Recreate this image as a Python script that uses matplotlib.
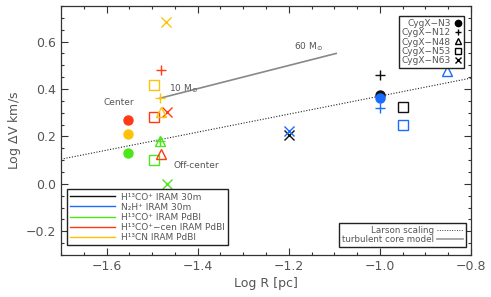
import matplotlib
matplotlib.use("Agg")
import matplotlib.pyplot as plt
import numpy as np
from matplotlib.lines import Line2D
from matplotlib.ticker import MultipleLocator

# --- data ---
sources = ["CygX-N3", "CygX-N12", "CygX-N48", "CygX-N53", "CygX-N63"]
source_markers = ["o", "+", "^", "s", "x"]

tracer_labels = ["H\u00b9\u00b3CO\u207a IRAM 30m", "N\u2082H\u207a IRAM 30m",
                 "H\u00b9\u00b3CO\u207a IRAM PdBI", "H\u00b9\u00b3CO\u207a\u2212cen IRAM PdBI",
                 "H\u00b9\u00b3CN IRAM PdBI"]
tracer_colors = ["#111111", "#1a6cff", "#4de61a", "#ff3a14", "#ffc20a"]

# per tracer: log R and log dV for N3, N12, N48, N53, N63 (None = not measured)
h13co_30m_R = [-1.0, -1.0, None, -0.95, -1.2]
h13co_30m_V = [0.375, 0.46, None, 0.325, 0.208]
n2h_30m_R = [-1.0, -1.0, -0.852, -0.95, -1.2]
n2h_30m_V = [0.36, 0.32, 0.475, 0.25, 0.225]
h13co_pdbi_R = [-1.553, -1.483, -1.483, -1.495, -1.468]
h13co_pdbi_V = [0.13, 0.18, 0.18, 0.102, 0.0]
h13co_cen_R = [-1.553, -1.48, -1.48, -1.495, -1.468]
h13co_cen_V = [0.27, 0.48, 0.128, 0.28, 0.302]
h13cn_pdbi_R = [-1.553, -1.483, -1.48, -1.495, -1.47]
h13cn_pdbi_V = [0.21, 0.361, 0.304, 0.415, 0.683]

tracer_R = [h13co_30m_R, n2h_30m_R, h13co_pdbi_R, h13co_cen_R, h13cn_pdbi_R]
tracer_V = [h13co_30m_V, n2h_30m_V, h13co_pdbi_V, h13co_cen_V, h13cn_pdbi_V]

# Larson scaling: log dV = a + b log R
larson_a, larson_b = 0.75, 0.38
# turbulent core model, 10 to 60 Msun
model_R = [-1.483, -1.096]
model_V = [0.361, 0.55]

TXT = "#555555"
plt.rcParams["font.family"] = "DejaVu Sans"

fig = plt.figure(figsize=(4.91, 2.97), dpi=100)
ax = fig.add_axes([0.1242, 0.1414, 0.8351, 0.8384])

xx = np.array([-1.70, -0.80])
ax.plot(xx, larson_a + larson_b * xx, ls=(0, (1, 1.5)), color="#222222", lw=0.8)
ax.plot(model_R, model_V, color="#888888", lw=1.2)

sizes = {"o": 6.5, "+": 7.5, "^": 7, "s": 6.5, "x": 7}
for R, V, col in zip(tracer_R, tracer_V, tracer_colors):
    for r, v, m in zip(R, V, source_markers):
        if r is None:
            continue
        if m == "o":
            ax.plot(r, v, m, ms=sizes[m], color=col, mec=col)
        elif m in ("+", "x"):
            ax.plot(r, v, m, ms=sizes[m], color=col, mew=1.0)
        else:
            ax.plot(r, v, m, ms=sizes[m], mfc="none", mec=col, mew=1.0)

ax.text(-1.573, 0.333, "Center", fontsize=6.5, color=TXT, ha="center")
ax.text(-1.403, 0.067, "Off-center", fontsize=6.5, color=TXT, ha="center")
ax.text(-1.462, 0.39, r"10 M$_{\odot}$", fontsize=6.5, color=TXT)
ax.text(-1.188, 0.565, r"60 M$_{\odot}$", fontsize=6.5, color=TXT)

ax.set_xlim(-1.70, -0.80)
ax.set_ylim(-0.30, 0.75)
ax.xaxis.set_major_locator(MultipleLocator(0.2))
ax.xaxis.set_minor_locator(MultipleLocator(0.05))
ax.yaxis.set_major_locator(MultipleLocator(0.2))
ax.yaxis.set_minor_locator(MultipleLocator(0.05))
ax.tick_params(which="both", direction="in", top=True, right=True,
               colors="#333333", labelcolor=TXT, labelsize=9, width=0.8)
ax.tick_params(which="major", length=5)
ax.tick_params(which="minor", length=2.5)
ax.xaxis.set_major_formatter(plt.FuncFormatter(lambda v, p: f"{v:.1f}".replace("-", "\u2212")))
ax.yaxis.set_major_formatter(plt.FuncFormatter(lambda v, p: f"{v:.1f}".replace("-", "\u2212")))
for s in ax.spines.values():
    s.set_linewidth(0.9)
    s.set_color("#333333")
ax.set_xlabel("Log R [pc]", fontsize=9, color=TXT, labelpad=3)
ax.set_ylabel(r"Log $\Delta$V km/s", fontsize=9, color=TXT, labelpad=2)

leg_kw = dict(fancybox=False, framealpha=1, edgecolor="#222222",
              borderpad=0.3, labelspacing=0.05, handletextpad=0.4, borderaxespad=0)

src_handles = []
for m in source_markers:
    if m in ("o", "+", "x"):
        src_handles.append(Line2D([], [], ls="none", marker=m, color="black", ms=4.5))
    else:
        src_handles.append(Line2D([], [], ls="none", marker=m, mfc="none", mec="black", ms=4.5))
src_labels = [s.replace("-", "\u2212") for s in sources]
leg1 = ax.legend(src_handles, src_labels, loc="upper right", bbox_to_anchor=(0.983, 0.96),
                 markerfirst=False, fontsize=6.5, handlelength=0.8, **leg_kw)
for t in leg1.get_texts():
    t.set_color(TXT)
ax.add_artist(leg1)

tr_handles = [Line2D([], [], color=c, lw=1.0) for c in tracer_colors]
kw2 = dict(leg_kw, labelspacing=0.12, borderpad=0.35, handletextpad=0.6)
leg2 = ax.legend(tr_handles, tracer_labels, loc="lower left", bbox_to_anchor=(0.0146, 0.04),
                 fontsize=6.5, handlelength=5.0, **kw2)
for t in leg2.get_texts():
    t.set_color(TXT)
ax.add_artist(leg2)

mod_handles = [Line2D([], [], ls=(0, (1, 1.5)), color="#444444", lw=0.7),
               Line2D([], [], color="#999999", lw=1.2)]
leg3 = ax.legend(mod_handles, ["Larson scaling", "turbulent core model"], loc="lower right",
                 bbox_to_anchor=(0.988, 0.032), markerfirst=False, fontsize=6.3,
                 handlelength=3.0, **leg_kw)
for t in leg3.get_texts():
    t.set_color(TXT)

fig.savefig("out.png", dpi=100)
